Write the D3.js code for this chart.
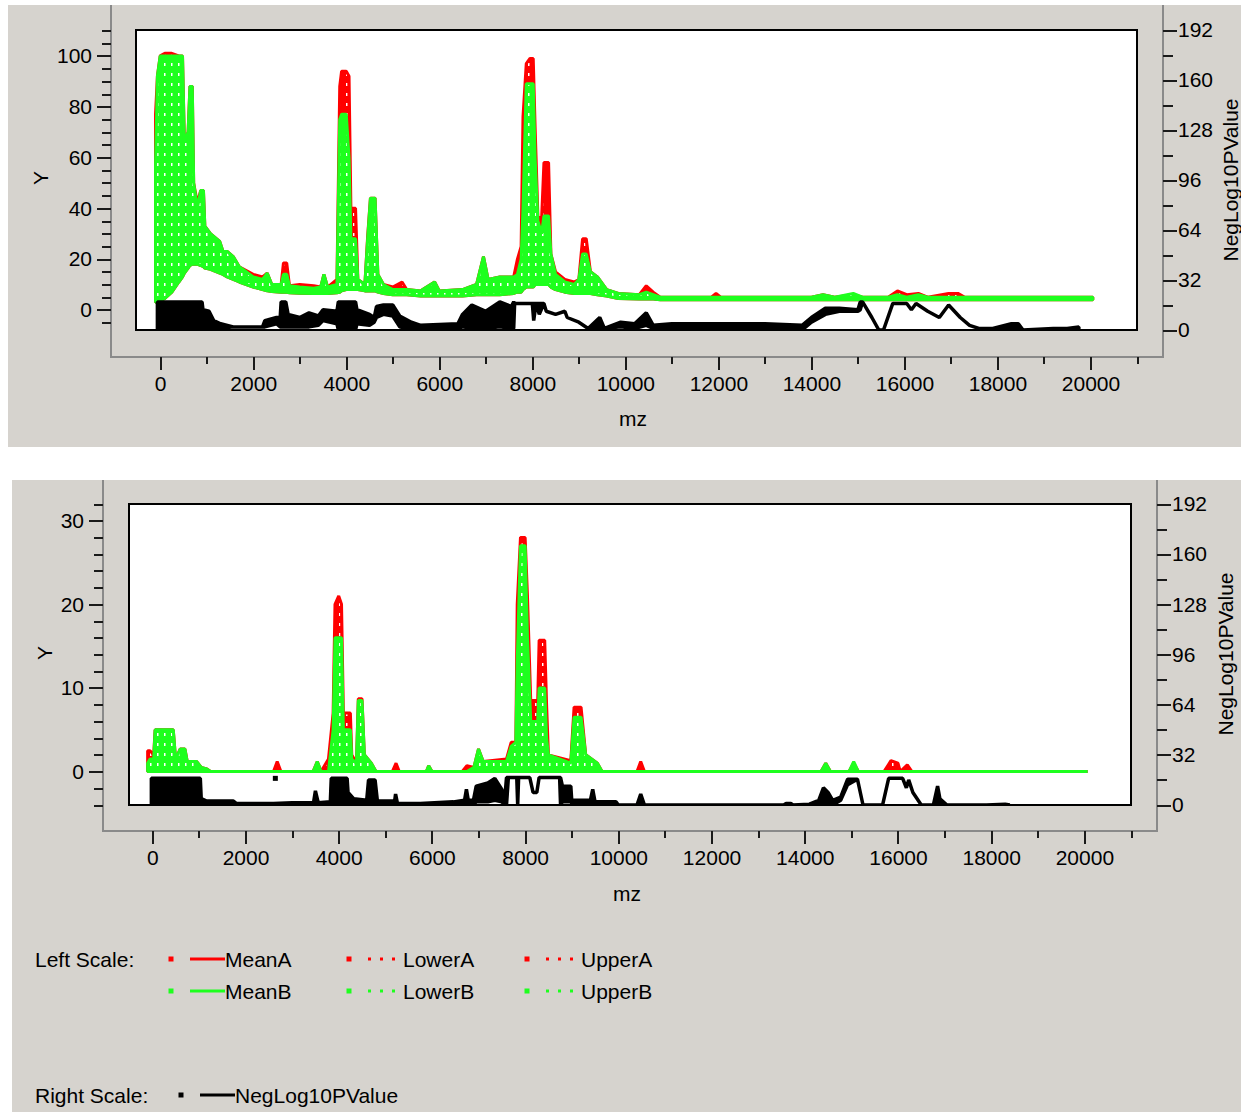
<!DOCTYPE html>
<html lang="en">
<head>
<meta charset="UTF-8">
<title>MeanA / MeanB spectra with NegLog10PValue</title>
<script src="https://d3js.org/d3.v7.min.js"></script>
<style>
  body { margin: 0; background: #fff; }
  svg text { font-family: "Liberation Sans", Arial, sans-serif; font-size: 21px; fill: #000; }
  .tick line { stroke: #1a1a1a; stroke-width: 2; shape-rendering: crispEdges; }
</style>
</head>
<body>
<svg id="chart" width="1241" height="1112"></svg>
<script>
// ---- data: [mz, low edge, high edge] of each trace group ----
// top panel, left scale (Y)
const topGroupA = [
  [-100,3,77],[-60,3,92],[0,3.5,100],[100,4.5,101],[250,7,101],[400,11,100],[480,13,100],[520,14.5,66],
  [600,16.5,70],[640,17.5,88],[690,18,88],[720,18,50],[800,18,42],[870,17.5,47],[930,17,47],[960,16.5,33],
  [1080,16,30],[1280,14.5,27],[1350,14,23],[1440,13,23],[1570,12,21],[1700,11,17],[1850,10,15.5],[2000,9,14],
  [2200,8,13],[2300,7.5,14.5],[2400,7.3,10],[2600,7,10],[2650,7,18.5],[2720,7,18.5],[2780,6.8,9.5],[3000,6.6,10],
  [3300,6.5,9.5],[3450,6.5,9],[3520,6.5,14],[3600,6.5,9],[3800,6.8,12],[3860,7,88],[3900,7.5,94],[4000,8,94],
  [4060,8,92],[4100,8,40],[4200,8,40],[4250,8,12],[4400,7.5,10],[4460,7.5,29],[4520,7.5,44],[4620,7.5,44],
  [4680,7,14],[4800,6.5,10],[5000,6,9],[5200,6,11],[5300,6,8],[5600,5.5,7.5],[5900,5.5,11],[6000,5.5,7.5],
  [6500,5.5,8],[6800,6,10],[6950,6,21],[7050,6,12],[7300,6,13],[7600,6.5,13],[7680,7,20],[7760,7,25],
  [7800,8,76],[7870,9,97],[7950,9,99],[8020,9,99],[8060,10,72],[8120,10,37],[8200,10,36],[8250,10,58],
  [8350,10,58],[8400,9,22],[8500,8,15],[8700,7,12],[8900,6.5,11],[9000,6.5,12],[9080,6.5,28],[9160,6.5,28],
  [9250,6.5,15],[9400,6,13],[9600,5.5,8],[9850,4.5,6.5],[10300,4.3,6],[10450,4.3,9.5],[10600,4.3,7],[10750,4,5],
  [11850,4,5],[11950,4,6.5],[12050,4,5],[14000,4,5],[14250,4,6],[14500,4,5],[14900,4,6],[15100,4,5],
  [15650,4,5],[15850,4,7.5],[16050,4,6],[16300,4,6.5],[16500,4,5],[16950,4,6.5],[17150,4,6.5],[17300,4,5],
  [20050,4,5]
];
const topGroupB = [
  [-100,3,57],[-60,3,92],[0,3.5,100],[100,4.5,100],[250,7,100],[400,11,100],[480,13,100],[520,14.5,66],
  [600,16.5,70],[640,17.5,88],[690,18,88],[720,18,50],[800,18,40],[870,17.5,47],[930,17,47],[960,16.5,33],
  [1080,16,30],[1280,14.5,27],[1350,14,23],[1440,13,23],[1570,12,21],[1700,11,17],[1850,10,15],[2000,9,13],
  [2200,8,12],[2300,7.5,14.5],[2400,7.3,10],[2600,7,10],[2650,7,14],[2720,7,14],[2780,6.8,9.5],[3000,6.6,9],
  [3300,6.5,8.5],[3450,6.5,9],[3520,6.5,14],[3600,6.5,9],[3800,6.8,10],[3860,7,75],[3900,7.5,77],[4000,8,77],
  [4060,8,60],[4100,8,28],[4200,8,28],[4250,8,12],[4400,7.5,10],[4460,7.5,28],[4520,7.5,44],[4620,7.5,44],
  [4680,7,14],[4800,6.5,10],[5000,6,8],[5200,6,8],[5300,6,8],[5600,5.5,7.5],[5900,5.5,11],[6000,5.5,7.5],
  [6500,5.5,8],[6800,6,10],[6950,6,21],[7050,6,12],[7300,6,13],[7600,6.5,13],[7680,7,14],[7760,7,20],
  [7800,8,40],[7870,9,89],[7950,9,89],[8020,9,89],[8060,10,60],[8120,10,35],[8200,10,30],[8250,10,37],
  [8350,10,37],[8400,9,22],[8500,8,14],[8700,7,11],[8900,6.5,10],[9000,6.5,12],[9080,6.5,22],[9160,6.5,22],
  [9250,6.5,15],[9400,6,13],[9600,5.5,8],[9850,4.5,6.5],[10300,4.3,6],[10450,4.3,7],[10600,4.3,6],[10750,4,5],
  [11850,4,5],[11950,4,5],[12050,4,5],[14000,4,5],[14250,4,6],[14500,4,5],[14900,4,6.5],[15100,4,5],
  [15650,4,5],[15850,4,6],[16050,4,5],[16300,4,6],[16500,4,5],[16950,4,5],[17150,4,5],[17300,4,5],
  [20050,4,5]
];
// top panel, right scale (NegLog10PValue)
const topPValue = [
  [-60,0,18],[900,0,18],[920,0,13],[1050,0,12],[1150,0,6],[1300,1,4],[1570,2,2],[2200,2,2],[2250,2,6],
  [2500,4,8],[2580,2,8],[2600,2,18],[2700,2,18],[2750,2,10],[3000,2,8],[3200,2,11],[3400,3,9],[3500,6,13],
  [3800,4,12],[3830,0,18],[4200,0,18],[4230,4,13],[4500,3,10],[4600,5,8],[4650,8,15],[4800,10,16],[5000,9,16],
  [5150,2,9],[5400,0,5],[5600,1,3],[6400,1,4],[6500,2,10],[6700,1,16],[7000,1,12],[7300,2,18],[7550,1,15],
  [7600,1,18],[7620,17,17],[8000,17,17],[8030,6,17],[8080,17,17],[8150,10,17],[8250,17,17],[8300,12,12],
  [8500,10,10],[8700,12,12],[8750,8,8],[9000,5,5],[9200,1,1],[9450,1,8],[9550,1,1],[9900,2,5],[10200,1,4],
  [10450,3,11],[10600,1,3],[11000,0,4],[12000,0,4],[13000,0,4],[13800,0,3],[14000,5,8],[14300,10,14],
  [14600,12,14],[15000,12,13],[15050,13,18],[15100,18,18],[15300,8,8],[15450,0,0],[15550,0,0],[15750,17,17],
  [16050,17,17],[16150,13,13],[16250,17,17],[16500,12,12],[16750,8,8],[16950,16,16],[17200,8,8],[17400,3,3],
  [17600,1,1],[17900,1,1],[18300,1,4],[18450,1,4],[18550,0,0],[19200,0,1],[19500,0,1],[19750,0,2]
];

// bottom panel, left scale (Y)
const bottomGroupA = [
  [-100,0,2.5],[-50,0,2.5],[30,0,2],[60,0,5],[450,0,5],[500,0,1.5],[600,0,2.7],[700,0,2.7],[750,0,1.2],
  [950,0,1.2],[1050,0,0.5],[1170,0,0.3],[1250,0,0],[2600,0,0],[2680,0,1.2],[2760,0,0],[3450,0,0],[3540,0,1.2],
  [3620,0,0],[3780,0,1.5],[3880,0,7],[3920,0,20],[4000,0,21],[4060,0,20],[4100,0,7],[4250,0,7],[4280,0,2],
  [4380,0,1],[4420,0,8.7],[4500,0,8.7],[4550,0,2],[4700,0,1],[4800,0,0],[5150,0,0],[5230,0,1],[5300,0,0],
  [5880,0,0],[5930,0,0.7],[6000,0,0],[6650,0,0],[6750,0,0.7],[6900,0,0.5],[7000,0,2.7],[7100,0,1.2],
  [7600,0,1.5],[7700,0,3.5],[7800,0,3.5],[7830,0,20],[7900,0,28],[8000,0,28],[8050,0,21],[8120,0,8.5],
  [8270,0,8.5],[8300,0,15.7],[8420,0,15.7],[8460,0,8],[8500,0,2],[8980,0,1.3],[9050,0,7.7],[9200,0,7.7],
  [9300,0,2],[9550,0,1],[9650,0,0],[10400,0,0],[10480,0,1.2],[10560,0,0],[14350,0,0],[14450,0,1],[14550,0,0],
  [14950,0,0],[15050,0,1],[15150,0,0],[15700,0,0],[15850,0,1.3],[16000,0,1],[16050,0,0],[16200,0,0.8],
  [16300,0,0],[20070,0,0]
];
const bottomGroupB = [
  [-100,0,1],[-50,0,1.5],[30,0,1.5],[60,0,5],[450,0,5],[500,0,1.5],[600,0,2.7],[700,0,2.7],[750,0,1.2],
  [950,0,1.2],[1050,0,0.5],[1170,0,0.3],[1250,0,0],[2600,0,0],[2680,0,0],[2760,0,0],[3450,0,0],[3540,0,1.2],
  [3620,0,0],[3780,0,0],[3880,0,5],[3920,0,16],[4000,0,16],[4060,0,16],[4100,0,5],[4250,0,5],[4280,0,1.5],
  [4380,0,1],[4420,0,8.5],[4500,0,8.5],[4550,0,2],[4700,0,1],[4800,0,0],[5150,0,0],[5230,0,0],[5300,0,0],
  [5880,0,0],[5930,0,0.7],[6000,0,0],[6650,0,0],[6750,0,0],[6900,0,0.5],[7000,0,2.7],[7100,0,1.2],
  [7600,0,1.2],[7700,0,3],[7800,0,3.5],[7830,0,13],[7900,0,27],[8000,0,27],[8050,0,16],[8120,0,6],
  [8270,0,6],[8300,0,10],[8420,0,10],[8460,0,4],[8500,0,2],[8980,0,1],[9050,0,6.5],[9200,0,6.5],
  [9300,0,2],[9550,0,1],[9650,0,0],[10400,0,0],[10480,0,0],[10560,0,0],[14350,0,0],[14450,0,1],[14550,0,0],
  [14950,0,0],[15050,0,1.2],[15150,0,0],[15700,0,0],[15850,0,0],[16000,0,0],[16050,0,0],[16200,0,0],
  [16300,0,0],[20070,0,0]
];
// bottom panel, right scale (NegLog10PValue)
const bottomPValue = [
  [-20,0,17],[1030,0,17],[1050,0,4],[1170,0,2.5],[1740,0,2.5],[1800,0,1],[2600,0,1],[3000,0,1.5],[3460,0,1.5],
  [3500,0,9],[3560,0,1.5],[3820,0,2],[3840,0,17],[4180,0,17],[4200,0,8],[4320,0,4],[4600,0,3],[4640,0,16],
  [4780,0,16],[4830,0,2.5],[5200,0,2.5],[5220,0,7],[5260,0,1],[5750,0,1],[6460,0,2],[6700,0,3],[6740,0,10],
  [6780,0,3],[6890,0,3],[6950,2,12],[7200,2,14],[7350,3,17],[7500,2,10],[7560,0,3],[7600,0,17.5],
  [7640,17.5,17.5],[7820,17.5,17.5],[7840,0,17.5],[7860,17.5,17.5],[8100,17.5,17.5],[8170,8,8],[8250,8,8],
  [8300,17.5,17.5],[8740,17.5,17.5],[8760,0,17.5],[8800,2,12],[8980,2,12],[9000,1,3],[9400,1,3],[9450,1,10],
  [9500,1,2],[9950,1,2],[10000,0,0],[10400,0,0],[10480,0,7],[10560,0,0],[13550,0,0],[13600,1,1],[13700,1,1],
  [13750,0,0],[14100,0,0.5],[14300,0,3],[14400,0,11],[14500,0,8],[14600,0,3],[14770,3,5],[14920,13,16.5],
  [15130,16.5,16.5],[15250,0,0],[15670,0,0],[15800,17,17],[16100,17,17],[16180,11,11],[16230,16,16],
  [16320,8,8],[16500,0,0],[16760,0,0],[16850,0,12],[16900,0,4],[17050,0,0],[17900,0,0],[18300,0,0.5],[18400,0,0]
];
const bottomPDots = [[2640, 17]];

// ---- ticks ----
const xMajor = [0, 2000, 4000, 6000, 8000, 10000, 12000, 14000, 16000, 18000, 20000];
const xMinor = [1000, 3000, 5000, 7000, 9000, 11000, 13000, 15000, 17000, 19000, 21000];
const topYMajor = [0, 20, 40, 60, 80, 100];
const topYMinor = [-5, 5, 10, 15, 25, 30, 35, 45, 50, 55, 65, 70, 75, 85, 90, 95, 105, 110];
const bottomYMajor = [0, 10, 20, 30];
const bottomYMinor = [-4, -2, 2, 4, 6, 8, 12, 14, 16, 18, 22, 24, 26, 28, 32];
const rightMajor = [0, 32, 64, 96, 128, 160, 192];
const rightMinor = [16, 48, 80, 112, 144, 176];

const RED = '#ff0000', GREEN = '#1eff1e', GRAY = '#d6d3ce';

const svg = d3.select('#chart');
const defs = svg.append('defs');

// speckled fills standing in for the overplotted dashed bounds
function speckle(id, color) {
  const p = defs.append('pattern').attr('id', id)
    .attr('patternUnits', 'userSpaceOnUse').attr('width', 7).attr('height', 10);
  p.append('rect').attr('width', 7).attr('height', 10).attr('fill', color);
  p.append('rect').attr('x', 3).attr('y', 3).attr('width', 1.5).attr('height', 3).attr('fill', '#fff');
}
speckle('specA', RED);
speckle('specB', GREEN);

const panels = [
  {
    id: 'top', bg: [8, 5, 1233, 442],
    frame: { left: 111, right: 1163, top: 5, bottom: 357 },
    plot: { x0: 136, x1: 1137, y0: 30, y1: 330 },
    xDomain: [-520, 21000], yDomain: [-7.9, 110.2],
    yMajor: topYMajor, yMinor: topYMinor,
    groupA: topGroupA, groupB: topGroupB, pvalue: topPValue, dots: [],
    yLabel: [40, 178], xLabel: [633, 418], rLabel: [1230, 180]
  },
  {
    id: 'bottom', bg: [12, 480, 1229, 632],
    frame: { left: 103, right: 1157, top: 480, bottom: 831 },
    plot: { x0: 129, x1: 1131, y0: 504, y1: 805 },
    xDomain: [-500, 21000], yDomain: [-4, 32],
    yMajor: bottomYMajor, yMinor: bottomYMinor,
    groupA: bottomGroupA, groupB: bottomGroupB, pvalue: bottomPValue, dots: bottomPDots,
    yLabel: [44, 653], xLabel: [627, 893], rLabel: [1225, 654]
  }
];

function drawPanel(cfg) {
  const g = svg.append('g').attr('class', 'panel-' + cfg.id);
  const [bx, by, bw, bh] = cfg.bg;
  g.append('rect').attr('x', bx).attr('y', by).attr('width', bw).attr('height', bh).attr('fill', GRAY);

  const p = cfg.plot, f = cfg.frame;
  const x = d3.scaleLinear().domain(cfg.xDomain).range([p.x0, p.x1]);
  const y = d3.scaleLinear().domain(cfg.yDomain).range([p.y1, p.y0]);
  const yr = d3.scaleLinear().domain([0, 192]).range([p.y1, p.y0]);

  // open axis frame (left, bottom, right)
  g.append('path')
    .attr('d', `M${f.left},${f.top}V${f.bottom}H${f.right}V${f.top}`)
    .attr('fill', 'none').attr('stroke', '#8a8a8a').attr('stroke-width', 2);

  // plot area
  g.append('rect').attr('x', p.x0).attr('y', p.y0)
    .attr('width', p.x1 - p.x0).attr('height', p.y1 - p.y0).attr('fill', '#fff');

  const clipId = 'clip-' + cfg.id;
  defs.append('clipPath').attr('id', clipId).append('rect')
    .attr('x', p.x0).attr('y', p.y0).attr('width', p.x1 - p.x0).attr('height', p.y1 - p.y0);
  const marks = g.append('g').attr('clip-path', `url(#${clipId})`);

  const band = scale => d3.area()
    .x(d => x(d[0])).y0(d => scale(d[1])).y1(d => scale(d[2]));

  marks.append('path').datum(cfg.groupA).attr('d', band(y))
    .attr('fill', 'url(#specA)').attr('stroke', RED).attr('stroke-width', 3).attr('stroke-linejoin', 'bevel');
  marks.append('path').datum(cfg.groupB).attr('d', band(y))
    .attr('fill', 'url(#specB)').attr('stroke', GREEN).attr('stroke-width', 3).attr('stroke-linejoin', 'bevel');
  marks.append('path').datum(cfg.pvalue).attr('d', band(yr))
    .attr('fill', '#000').attr('stroke', '#000').attr('stroke-width', 3.5).attr('stroke-linejoin', 'bevel');
  marks.selectAll('rect.dot').data(cfg.dots).join('rect').attr('class', 'dot')
    .attr('x', d => x(d[0]) - 2.5).attr('y', d => yr(d[1]) - 2.5)
    .attr('width', 5).attr('height', 5).attr('fill', '#000');

  g.append('rect').attr('x', p.x0).attr('y', p.y0)
    .attr('width', p.x1 - p.x0).attr('height', p.y1 - p.y0)
    .attr('fill', 'none').attr('stroke', '#000').attr('stroke-width', 2);

  // axes
  const axis = (gen, tx, ty) => {
    const a = g.append('g').attr('transform', `translate(${tx},${ty})`).call(gen);
    a.select('.domain').remove();
    a.selectAll('text').style('font-size', '21px').attr('fill', '#000');
    return a;
  };
  axis(d3.axisLeft(y).tickValues(cfg.yMajor).tickSize(14).tickPadding(5), f.left, 0);
  axis(d3.axisLeft(y).tickValues(cfg.yMinor).tickSize(9).tickFormat(''), f.left, 0);
  axis(d3.axisRight(yr).tickValues(rightMajor).tickSize(14).tickPadding(1), f.right, 0);
  axis(d3.axisRight(yr).tickValues(rightMinor).tickSize(10).tickFormat(''), f.right, 0);
  axis(d3.axisBottom(x).tickValues(xMajor).tickSize(13).tickPadding(6).tickFormat(d3.format('d')), 0, f.bottom);
  axis(d3.axisBottom(x).tickValues(xMinor).tickSize(7).tickFormat(''), 0, f.bottom);

  g.append('text').text('Y').attr('text-anchor', 'middle').attr('dominant-baseline', 'central')
    .attr('transform', `translate(${cfg.yLabel[0]},${cfg.yLabel[1]}) rotate(-90)`);
  g.append('text').text('mz').attr('text-anchor', 'middle').attr('dominant-baseline', 'central')
    .attr('x', cfg.xLabel[0]).attr('y', cfg.xLabel[1]);
  g.append('text').text('NegLog10PValue').attr('text-anchor', 'middle').attr('dominant-baseline', 'central')
    .attr('transform', `translate(${cfg.rLabel[0]},${cfg.rLabel[1]}) rotate(-90)`);
}

panels.forEach(drawPanel);

// ---- legend ----
const legendLeft = [
  { name: 'MeanA', color: RED, dash: null, col: 0, row: 0 },
  { name: 'LowerA', color: RED, dash: '3 9', col: 1, row: 0 },
  { name: 'UpperA', color: RED, dash: '3 9', col: 2, row: 0 },
  { name: 'MeanB', color: GREEN, dash: null, col: 0, row: 1 },
  { name: 'LowerB', color: GREEN, dash: '3 9', col: 1, row: 1 },
  { name: 'UpperB', color: GREEN, dash: '3 9', col: 2, row: 1 }
];
const legendRight = [{ name: 'NegLog10PValue', color: '#000', dash: null }];

const lg = svg.append('g');
function legendItem(item, x0, yc) {
  lg.append('rect').attr('x', x0 - 2.5).attr('y', yc - 2.5).attr('width', 5).attr('height', 5).attr('fill', item.color);
  lg.append('line').attr('x1', x0 + 19).attr('x2', x0 + 54).attr('y1', yc).attr('y2', yc)
    .attr('stroke', item.color).attr('stroke-width', 3)
    .attr('stroke-dasharray', item.dash);
  lg.append('text').text(item.name).attr('x', x0 + 54).attr('y', yc).attr('dominant-baseline', 'central');
}
lg.append('text').text('Left Scale:').attr('x', 35).attr('y', 959).attr('dominant-baseline', 'central');
const colX = [171, 349, 527], rowY = [959, 991];
legendLeft.forEach(it => legendItem(it, colX[it.col], rowY[it.row]));
lg.append('text').text('Right Scale:').attr('x', 35).attr('y', 1095).attr('dominant-baseline', 'central');
legendRight.forEach(it => legendItem(it, 181, 1095));
</script>
</body>
</html>
